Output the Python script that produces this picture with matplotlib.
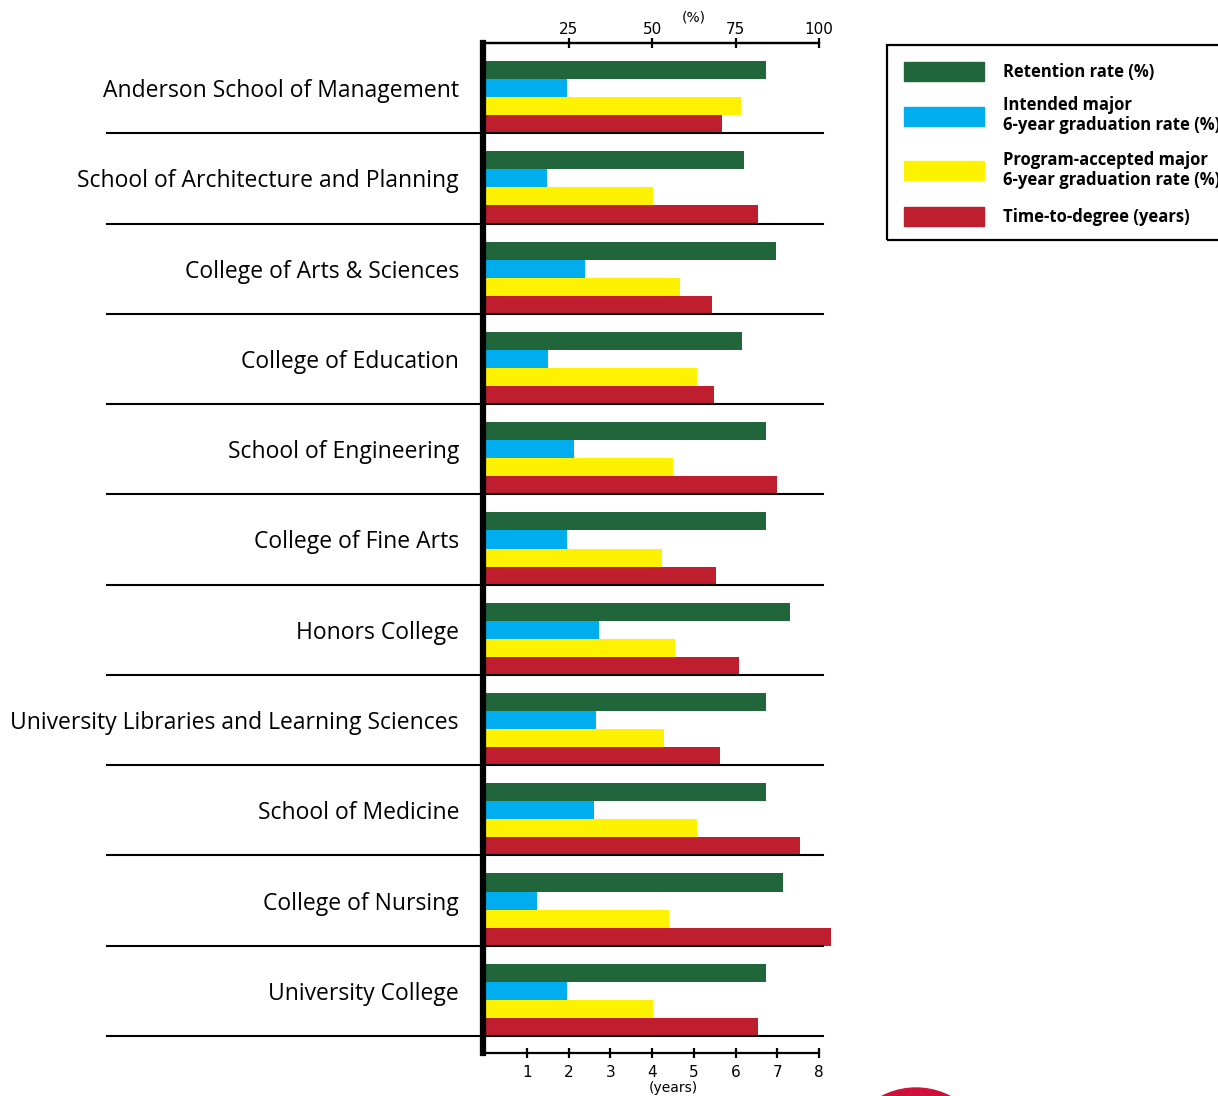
import matplotlib.pyplot as plt
import numpy as np
from matplotlib.patches import Rectangle, Ellipse

colleges = ["Anderson School of Management", "School of Architecture and Planning",
            "College of Arts & Sciences", "College of Education", "School of Engineering",
            "College of Fine Arts", "Honors College",
            "University Libraries and Learning Sciences", "School of Medicine",
            "College of Nursing", "University College"]
retention = [84, 77.5, 87, 77, 84, 84, 91.3, 84, 84, 89.2, 84]          # %
intended_grad = [24.5, 18.5, 30, 19, 26.6, 24.5, 34, 33.2, 32.6, 15.5, 24.5]   # %
accepted_grad = [76.6, 50.3, 58.4, 63.5, 56.3, 53, 57, 53.6, 63.5, 55, 50.3]  # %
time_to_degree = [5.68, 6.54, 5.44, 5.48, 7.0, 5.53, 6.08, 5.63, 7.55, 8.29, 6.54]  # years

legend_labels = ["Retention rate (%)", "Intended major\n6-year graduation rate (%)",
                 "Program-accepted major\n6-year graduation rate (%)", "Time-to-degree (years)"]
colors = ["#20663a", "#00aeef", "#fff200", "#be1e2d"]

W, H = 1218, 1096
fig = plt.figure(figsize=(W / 100, H / 100), dpi=100)
ax = fig.add_axes([485 / W, 1 - 1053 / H, (819 - 485) / W, (1053 - 43) / H])

n = len(colleges)
y = np.arange(n)
pct = 12.5  # 100% lines up with 8 years

series = [np.array(retention) / pct, np.array(intended_grad) / pct,
          np.array(accepted_grad) / pct, np.array(time_to_degree)]
for k, vals in enumerate(series):
    ax.barh(y + 0.3 + 0.2 * k, vals, height=0.2, color=colors[k], clip_on=False, zorder=1)

# separators between colleges
x_left = (107 - 485) / 41.75
x_right = (823 - 485) / 41.75
for i in range(n):
    ax.plot([x_left, x_right], [i + 1, i + 1], color="black", lw=1.5, clip_on=False, zorder=3)

ax.set_xlim(0, 8)
ax.set_ylim(n + 17 / 90, 0)
ax.set_yticks([])

ax.spines["right"].set_visible(False)
ax.spines["left"].set_linewidth(4.5)
ax.spines["left"].set_position(("data", -0.04))
ax.spines["top"].set_linewidth(1.6)
ax.spines["bottom"].set_linewidth(1.6)

ax.set_xticks(range(1, 9))
ax.tick_params(axis="x", direction="inout", length=7, width=1.6, labelsize=11, pad=5)

top = ax.secondary_xaxis("top", functions=(lambda v: v * pct, lambda v: v / pct))
top.set_xticks([25, 50, 75, 100])
top.tick_params(direction="inout", length=7, width=1.6, labelsize=11, pad=1)
top.spines["top"].set_linewidth(1.6)

ax.text(5.0, -25 / 90, "(%)", ha="center", va="center", fontsize=10, clip_on=False)
ax.text(4.5, n + 52 / 90, "(years)", ha="center", va="center", fontsize=10, clip_on=False)

for i, name in enumerate(colleges):
    ax.text((459 - 485) / 41.75, i + 0.5 + 3 / 90, name, ha="right", va="center",
            fontsize=16.5, family="Open Sans", clip_on=False)

# legend drawn by hand (box runs off the right edge)
fig.patches.append(Rectangle((887 / W, 1 - 240 / H), 400 / W, 195 / H, transform=fig.transFigure,
                             fill=False, edgecolor="black", lw=1.6))
sw_y = [71, 116, 170, 216]
txt_y = [72, 115, 170, 217]
for k in range(4):
    fig.patches.append(Rectangle((904 / W, 1 - (sw_y[k] + 9.5) / H), 80 / W, 19 / H,
                                 transform=fig.transFigure, color=colors[k]))
    fig.text(1003 / W, 1 - txt_y[k] / H, legend_labels[k], ha="left", va="center",
             fontsize=12, fontweight="bold", linespacing=1.15, family="Open Sans")

fig.patches.append(Ellipse((916 / W, 1 - 1162 / H), 148 / W, 148 / H, transform=fig.transFigure,
                           color="#d0103a"))

fig.savefig("out.png", dpi=100)
